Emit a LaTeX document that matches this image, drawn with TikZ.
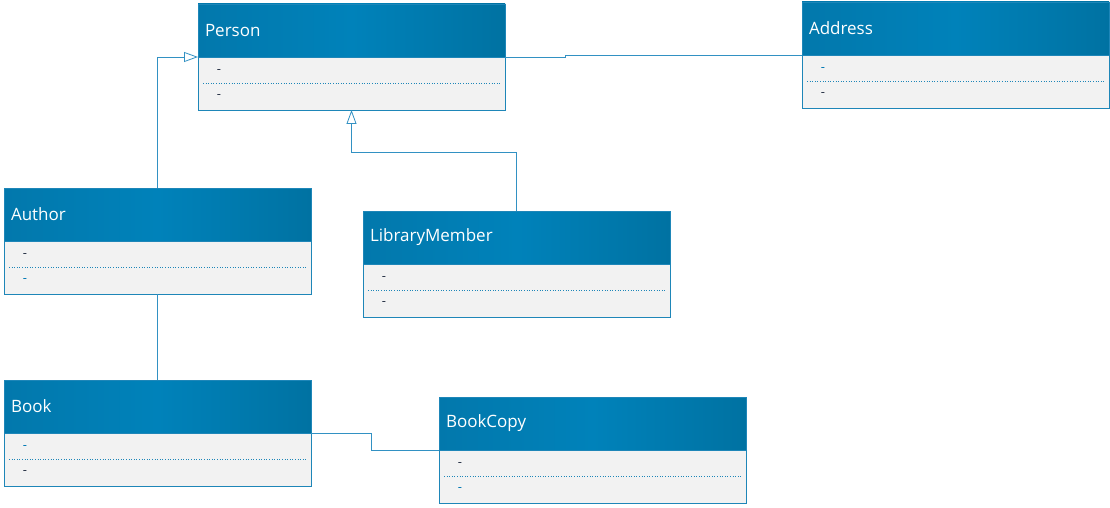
\documentclass[tikz,border=0pt]{standalone}
\usepackage{fontspec}
\setmainfont{Open Sans}
\usetikzlibrary{arrows.meta,positioning}
\definecolor{headleft}{RGB}{2,120,172}
\definecolor{headmid}{RGB}{0,130,186}
\definecolor{headright}{RGB}{0,114,162}
\definecolor{boxline}{RGB}{30,134,184}
\definecolor{bodyfill}{RGB}{242,242,242}
\definecolor{wire}{RGB}{50,145,195}
\definecolor{dashdark}{RGB}{40,50,70}
\definecolor{dashblue}{RGB}{0,120,180}
\tikzset{
    %Define style for class headers
    classhead/.style={
           rectangle,
           draw=boxline, line width=0.9pt,
           left color=headleft, right color=headright, middle color=headmid,
           minimum width=307pt,
           minimum height=53pt,
           text width=293pt,
           inner xsep=7pt,
           outer sep=0pt,
           align=left,
           text=white,
           font=\fontsize{17}{20}\selectfont,
           anchor=north west},
    classbody/.style={
           rectangle,
           draw=boxline, line width=0.9pt,
           fill=bodyfill,
           minimum width=307pt,
           minimum height=53pt,
           outer sep=0pt},
    % Define dash and separator styles
    member/.style={font=\fontsize{13}{15}\selectfont, inner sep=0pt},
    sep/.style={draw=boxline, dotted, line width=0.6pt},
    % Define connector style
    link/.style={draw=wire, line width=0.8pt},
    inherit/.style={link, -{Triangle[open, length=14pt, width=10pt, line width=0.8pt]}}
}
\begin{document}
\begin{tikzpicture}[x=1pt,y=-1pt]
\useasboundingbox (0,0) rectangle (1110,508);
 %classes
\node[classhead] (person) at (198,4) {Person};
\node[classbody, below=0pt of person] (personbody) {};
\node[classhead] (address) at (802,2) {Address};
\node[classbody, below=0pt of address] (addressbody) {};
\node[classhead] (author) at (4,188) {Author};
\node[classbody, below=0pt of author] (authorbody) {};
\node[classhead] (librarymember) at (363,211) {LibraryMember};
\node[classbody, below=0pt of librarymember] (librarymemberbody) {};
\node[classhead] (book) at (4,380) {Book};
\node[classbody, below=0pt of book] (bookbody) {};
\node[classhead] (bookcopy) at (439,397) {BookCopy};
\node[classbody, below=0pt of bookcopy] (bookcopybody) {};
 %attributes and operations
\foreach \c/\ca/\cb in {person/dashdark/dashdark, address/dashblue/dashdark,
    author/dashdark/dashblue, librarymember/dashdark/dashdark,
    book/dashblue/dashdark, bookcopy/dashdark/dashblue}{
  \node[member, text=\ca] (\c attr) at ([xshift=21pt,yshift=-15pt]\c body.north west) {-};
  \node[member, text=\cb] (\c oper) at ([xshift=21pt,yshift=-40pt]\c body.north west) {-};
  \draw[sep] ([xshift=5pt,yshift=-26pt]\c body.north west) -- ([xshift=-5pt,yshift=-26pt]\c body.north east);
}
 %relations
\draw[inherit] (author.north) |- (personbody.north west);
\draw[inherit] (librarymember.north) -- ++(0,-59) -| (personbody.south);
\draw[link] (personbody.north east) -- ++(60,0) |- (addressbody.north west);
\draw[link] (authorbody.south) -- (book.north);
\draw[link] (bookbody.north east) -- ++(60,0) |- (bookcopybody.north west);
\end{tikzpicture}
\end{document}
